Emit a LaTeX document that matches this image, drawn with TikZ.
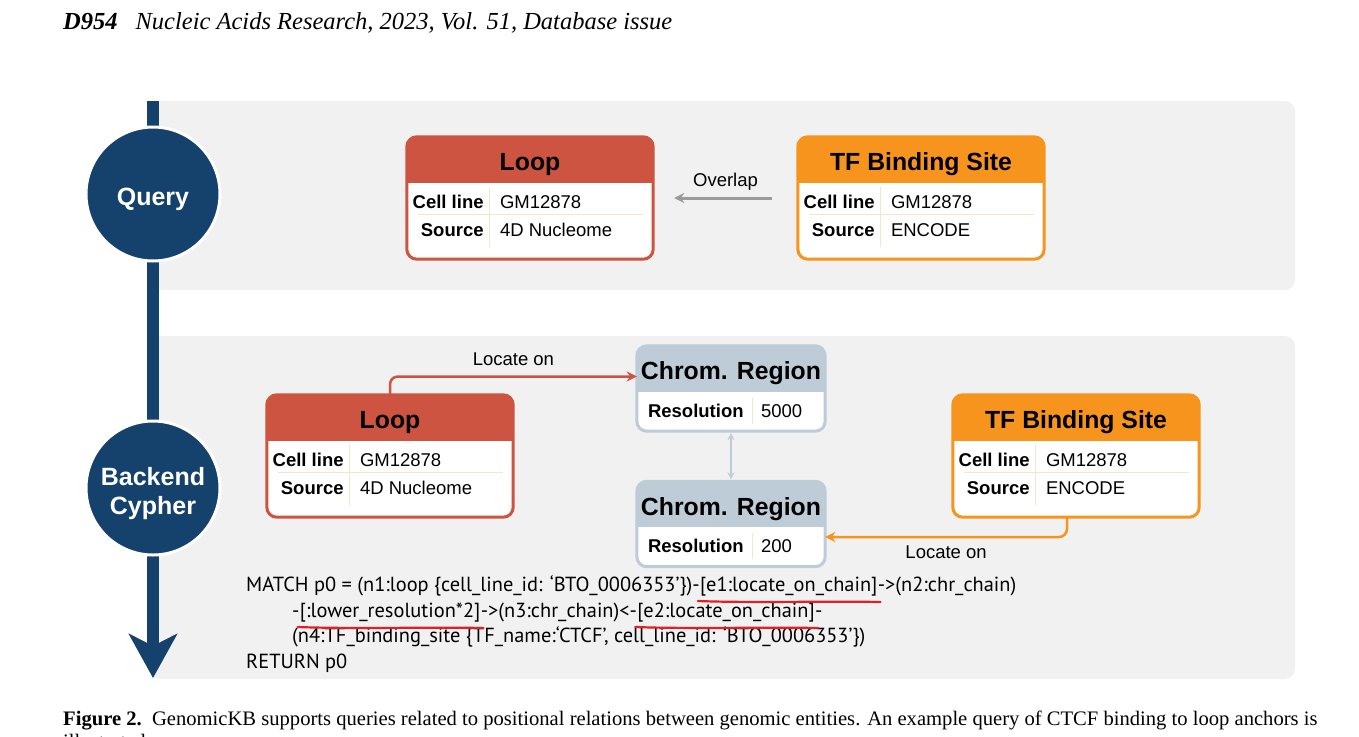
\documentclass[tikz,border=0pt]{standalone}
\usepackage{fontspec}
\setmainfont{Liberation Sans}
\newfontfamily\timesfont{Liberation Serif}
\newfontfamily\codefont{PT Sans}
\usetikzlibrary{arrows.meta,positioning}

\definecolor{navy}{HTML}{15416D}
\definecolor{loopred}{HTML}{CC5440}
\definecolor{tforange}{HTML}{F7941E}
\definecolor{chromgray}{HTML}{BDCCD6}
\definecolor{panelgray}{HTML}{F1F1F1}
\definecolor{rulebeige}{HTML}{F2E6CC}
\definecolor{overlapgray}{HTML}{9A9A9A}
\definecolor{redink}{HTML}{E31E24}

\begin{document}
\begin{tikzpicture}[x=1pt, y=-1pt,
    kbframe/.style={fill=white, rounded corners=10pt, inner sep=0pt},
    kbtitle/.style={anchor=base, inner sep=0pt, font=\bfseries\fontsize{24.8}{28}\selectfont},
    kblabel/.style={anchor=east, inner sep=0pt, font=\bfseries\fontsize{18.5}{22}\selectfont},
    kbvalue/.style={anchor=west, inner sep=0pt, font=\fontsize{18.5}{22}\selectfont},
    rowrule/.style={draw=rulebeige, line width=1.2pt},
    stage/.style={circle, fill=navy, draw=white, line width=3pt, minimum size=134pt},
    stagetext/.style={text=white, align=center, inner sep=0pt,
        font=\bfseries\fontsize{25}{30}\selectfont},
    lbl/.style={inner sep=0pt, text=black, font=\fontsize{18.5}{22}\selectfont},
    code/.style={anchor=base west, inner sep=0pt, font=\codefont\fontsize{20.4}{24}\selectfont},
    underl/.style={draw=redink, line width=2.2pt, line cap=round}
]
    \useasboundingbox (0,0) rectangle (1359,736);

    % running head
    \node[anchor=base west, inner sep=0pt, font=\timesfont\itshape\fontsize{24.5}{28}\selectfont]
        (runhead) at (63,29) {\textbf{D954}\hspace{18pt}Nucleic Acids Research, 2023, Vol. 51, Database issue};

    % panels
    \fill[panelgray, rounded corners=10pt] (150,101) rectangle (1295,290);
    \fill[panelgray, rounded corners=10pt] (150,336) rectangle (1295,679);

    % spine with stages
    \coordinate (spine-top) at (153,101);
    \coordinate (spine-end) at (153,678);
    \draw[navy, line width=12pt, -{Stealth[length=44pt, width=48pt, inset=12pt]}]
        (spine-top) -- (spine-end);
    \node[stage] (query) at (153,194) {};
    \node[stagetext] (query-text) at ([yshift=-5pt]query.center) {Query};
    \node[stage] (backend) at (153,488) {};
    \node[stagetext] (backend-text) at ([yshift=-6pt]backend.center) {Backend\\[-1pt]Cypher};

    % entity boxes
    \foreach \nm/\cx/\cy/\col/\ttl/\src in {
        loopQ/530/198/loopred/Loop/4D Nucleome,
        tfQ/921/198/tforange/TF Binding Site/ENCODE,
        loopB/390/456/loopred/Loop/4D Nucleome,
        tfB/1076/456/tforange/TF Binding Site/ENCODE
    } {
        \node[kbframe, minimum width=246pt, minimum height=122pt] (\nm) at (\cx,\cy) {};
        \begin{scope}
            \clip[rounded corners=10pt] (\nm.north west) rectangle (\nm.south east);
            \fill[\col] (\nm.north west) rectangle ([yshift=-46pt]\nm.north east);
        \end{scope}
        \draw[\col, line width=3pt, rounded corners=10pt]
            (\nm.north west) rectangle (\nm.south east);
        \node[kbtitle] (\nm-title) at ([yshift=-34pt]\nm.north) {\ttl};
        \draw[rowrule] ([xshift=11pt, yshift=-78pt]\nm.north west)
            -- ([xshift=-10pt, yshift=-78pt]\nm.north east);
        \draw[rowrule] ([xshift=83pt, yshift=-50pt]\nm.north west)
            -- ([xshift=83pt, yshift=-110pt]\nm.north west);
        \node[kblabel] (\nm-cell) at ([xshift=77pt, yshift=-65pt]\nm.north west) {Cell line};
        \node[kbvalue] (\nm-cellv) at ([xshift=93pt, yshift=-65pt]\nm.north west) {GM12878};
        \node[kblabel] (\nm-src) at ([xshift=77pt, yshift=-93pt]\nm.north west) {Source};
        \node[kbvalue] (\nm-srcv) at ([xshift=93pt, yshift=-93pt]\nm.north west) {\src};
    }

    % chromosome regions
    \foreach \nm/\cy/\res in {chromA/388.5/5000, chromB/524/200} {
        \node[kbframe, minimum width=188pt, minimum height=85pt] (\nm) at (731,\cy) {};
        \begin{scope}
            \clip[rounded corners=10pt] (\nm.north west) rectangle (\nm.south east);
            \fill[chromgray] (\nm.north west) rectangle ([yshift=-46pt]\nm.north east);
        \end{scope}
        \draw[chromgray, line width=3pt, rounded corners=10pt]
            (\nm.north west) rectangle (\nm.south east);
        \node[kbtitle] (\nm-title) at ([yshift=-34pt]\nm.north) {Chrom. Region};
        \draw[rowrule] ([xshift=116pt, yshift=-52pt]\nm.north west)
            -- ([xshift=116pt, yshift=-78pt]\nm.north west);
        \node[kblabel] (\nm-res) at ([xshift=107pt, yshift=-65pt]\nm.north west) {Resolution};
        \node[kbvalue] (\nm-resv) at ([xshift=124pt, yshift=-65pt]\nm.north west) {\res};
    }

    % relations
    \draw[overlapgray, line width=3pt, -{Stealth[length=10pt, width=10pt]},
        shorten <=26pt, shorten >=21pt]
        (tfQ.west) -- (loopQ.east) node[midway, above=6pt, lbl] {Overlap};
    \draw[loopred, line width=2.5pt, rounded corners=8pt, -{Stealth[length=10pt, width=10pt]}]
        (loopB.north) |- ([yshift=12pt]chromA.west)
        node[pos=0.75, above=10pt, lbl] {Locate on};
    \draw[tforange, line width=2.5pt, rounded corners=8pt, -{Stealth[length=10pt, width=10pt]}]
        ([xshift=-9pt]tfB.south) |- ([yshift=-13pt]chromB.east)
        node[pos=0.75, below=8pt, lbl] {Locate on};
    \draw[chromgray, line width=2pt, {Stealth[length=7pt, width=7pt]}-{Stealth[length=7pt, width=7pt]},
        shorten <=2pt, shorten >=2pt]
        (chromA.south) -- (chromB.north);

    % cypher query
    \node[code] (c1a) at (246,591) {MATCH p0 = (n1:loop \{cell\_line\_id: ‘BTO\_0006353’\})-};
    \node[code] (c1b) at (c1a.base east) {[e1:locate\_on\_chain]};
    \node[code] (c1c) at (c1b.base east) {->(n2:chr\_chain)};
    \node[code] (c2a) at (292,617) {-};
    \node[code] (c2b) at (c2a.base east) {[:lower\_resolution*2]};
    \node[code] (c2c) at (c2b.base east) {->(n3:chr\_chain)<-};
    \node[code] (c2d) at (c2c.base east) {[e2:locate\_on\_chain]};
    \node[code] (c2e) at (c2d.base east) {-};
    \node[code] (c3) at (292,642) {(n4:TF\_binding\_site \{TF\_name:‘CTCF’, cell\_line\_id: ‘BTO\_0006353’\})};
    \node[code] (c4) at (246,668) {RETURN p0};

    % hand-drawn underlines
    \foreach \u in {c1b, c2b, c2d} {
        \draw[underl] ([xshift=-2pt, yshift=-10pt]\u.base west)
            .. controls +(50pt,-2pt) and +(-50pt,1pt) .. ([xshift=3pt, yshift=-11pt]\u.base east);
    }

    % caption
    \node[anchor=base west, inner sep=0pt, font=\timesfont\fontsize{20.6}{24}\selectfont]
        (caption) at (63,725) {\textbf{Figure 2.}\ \ GenomicKB supports queries related to positional relations between genomic entities. An example query of CTCF binding to loop anchors is};
    \node[anchor=base west, inner sep=0pt, font=\timesfont\fontsize{20.6}{24}\selectfont]
        (caption-2) at ([yshift=-23pt]caption.base west) {illustrated.};
\end{tikzpicture}
\end{document}
